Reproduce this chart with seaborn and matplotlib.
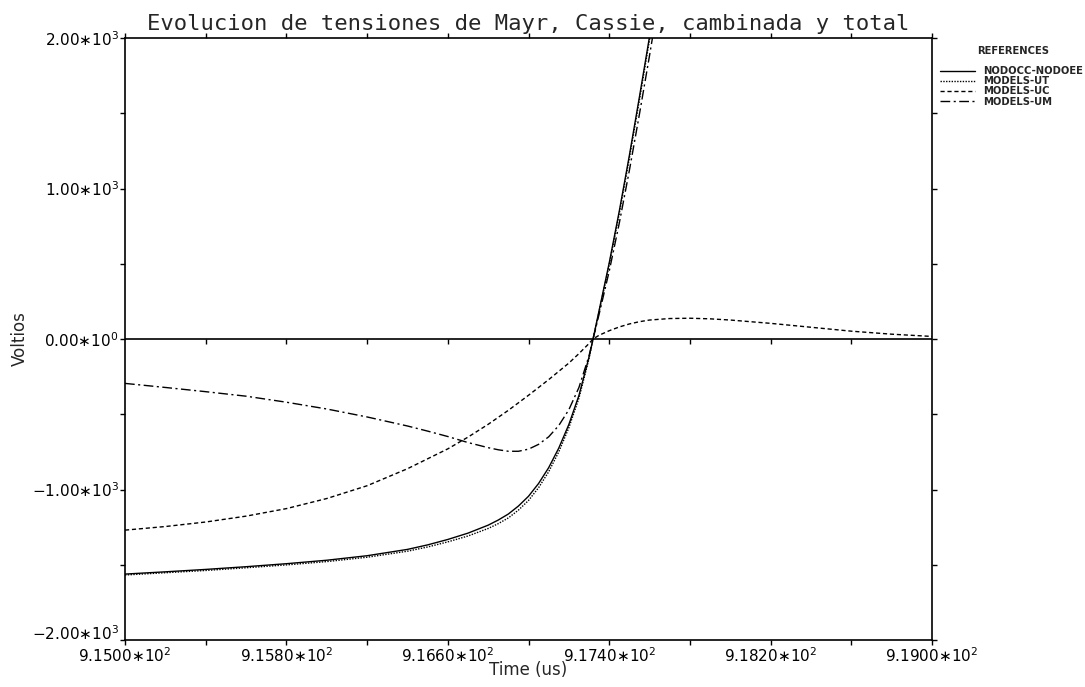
import matplotlib
matplotlib.use("Agg")
import matplotlib.pyplot as plt
from matplotlib.ticker import FixedLocator, FuncFormatter
import numpy as np
import pandas as pd
import seaborn as sns

# ---- data: arc voltages (V) versus time (us) ----
t_main = [915.0, 915.2, 915.4, 915.6, 915.8, 916.0, 916.2, 916.4, 916.5, 916.6,
          916.7, 916.8, 916.85, 916.9, 916.95, 917.0, 917.05, 917.1, 917.15, 917.2,
          917.25, 917.3, 917.32, 917.35, 917.4, 917.45, 917.5, 917.55, 917.6, 917.65]
v_nodo = [-1562, -1547, -1531, -1513, -1493, -1470, -1440, -1398, -1368, -1332,
          -1290, -1237, -1203, -1163, -1110, -1045, -960, -855, -725, -568,
          -375, -120, 0, 190, 505, 850, 1220, 1610, 2010, 2420]
v_ut = [-1568, -1553, -1538, -1520, -1501, -1479, -1450, -1410, -1382, -1348,
        -1309, -1259, -1227, -1189, -1137, -1073, -988, -882, -750, -590,
        -393, -130, 0, 182, 493, 835, 1202, 1590, 1990, 2400]
v_um = [-295, -322, -350, -380, -420, -465, -518, -578, -612, -648,
        -688, -722, -736, -746, -746, -732, -700, -650, -575, -470,
        -322, -112, 0, 165, 450, 770, 1120, 1495, 1884, 2289]

t_uc = [915.0, 915.2, 915.4, 915.6, 915.8, 916.0, 916.2, 916.4, 916.6, 916.7,
        916.8, 916.9, 917.0, 917.1, 917.2, 917.25, 917.3, 917.32, 917.35, 917.4,
        917.45, 917.5, 917.55, 917.6, 917.7, 917.8, 917.9, 918.0, 918.2, 918.4,
        918.6, 918.8, 919.0]
v_uc = [-1270, -1246, -1216, -1177, -1127, -1060, -975, -862, -730, -652,
        -567, -474, -374, -270, -160, -97, -30, 0, 25, 55,
        80, 100, 115, 126, 136, 138, 134, 126, 104, 78,
        52, 32, 17]

series_names = ["NODOCC-NODOEE", "MODELS-UT", "MODELS-UC", "MODELS-UM"]

x_ticks_major = [915.0, 915.8, 916.6, 917.4, 918.2, 919.0]
x_ticks_minor = [915.4, 916.2, 917.0, 917.8, 918.6]
y_ticks_major = [-2000, -1000, 0, 1000, 2000]
y_ticks_minor = [-1500, -500, 500, 1500]

frames = []
for name, tt, vv in zip(series_names,
                        [t_main, t_main, t_uc, t_main],
                        [v_nodo, v_ut, v_uc, v_um]):
    frames.append(pd.DataFrame({"time": tt, "volts": vv, "series": name}))
df = pd.concat(frames, ignore_index=True)

sns.set_style("ticks")
plt.rcParams["font.family"] = ["DejaVu Sans"]
plt.rcParams["mathtext.fontset"] = "dejavusans"

W, H = 1085, 687
fig = plt.figure(figsize=(W / 100, H / 100), dpi=100)
ax = fig.add_axes([125 / W, 1 - 640 / H, 807 / W, 602 / H])

dash_map = {
    "NODOCC-NODOEE": "",
    "MODELS-UT": (1, 1),
    "MODELS-UC": (3, 2),
    "MODELS-UM": (7, 2.5, 1.5, 2.5),
}
sns.lineplot(data=df, x="time", y="volts", style="series", style_order=series_names,
             dashes=dash_map, color="black", linewidth=1.0, sort=False,
             estimator=None, ax=ax)

ax.set_xlim(x_ticks_major[0], x_ticks_major[-1])
ax.set_ylim(y_ticks_major[0], y_ticks_major[-1])

# zero reference line with small downward ticks
ax.axhline(0, color="black", linewidth=1.2, zorder=1)
ax.vlines(x_ticks_major[1:-1] + x_ticks_minor, -36, 0, color="black",
          linewidth=1.0, zorder=1)


def fmt_sci(val, decimals):
    if val == 0:
        mant, exp = 0.0, 0
    else:
        exp = int(np.floor(np.log10(abs(val)) + 1e-9))
        mant = val / 10 ** exp
    s = f"{mant:.{decimals}f}".replace("-", "\u2212")
    return r"$\mathregular{" + s + r"{\ast}10^{" + str(exp) + r"}}$"


ax.xaxis.set_major_locator(FixedLocator(x_ticks_major))
ax.xaxis.set_minor_locator(FixedLocator(x_ticks_minor))
ax.yaxis.set_major_locator(FixedLocator(y_ticks_major))
ax.yaxis.set_minor_locator(FixedLocator(y_ticks_minor))
ax.xaxis.set_major_formatter(FuncFormatter(lambda v, p: fmt_sci(v, 4)))
ax.yaxis.set_major_formatter(FuncFormatter(lambda v, p: fmt_sci(v, 2)))

for which in ("major", "minor"):
    ax.tick_params(axis="both", which=which, direction="out", length=3.4, width=1.0,
                   top=True, right=True, bottom=True, left=True, color="black")
ax.tick_params(axis="both", which="major", labelsize=11, pad=1.0, labelcolor="black")

# lift the lowest y label so it sits above the corner
ax.yaxis.get_major_ticks(len(y_ticks_major))[0].label1.set_verticalalignment("baseline")

for sp in ax.spines.values():
    sp.set_visible(True)
    sp.set_linewidth(1.2)
    sp.set_color("black")

ax.set_xlabel("Time (us)", fontsize=12, labelpad=-3)
ax.set_ylabel("Voltios", fontsize=12, labelpad=2)
ax.set_title("Evolucion de tensiones de Mayr, Cassie, cambinada y total",
             fontsize=16, family="DejaVu Sans Mono", pad=6)

handles, labels = ax.get_legend_handles_labels()
ax.legend(handles, labels, loc="upper left",
          bbox_to_anchor=(940 / W, 1 - 66 / H), bbox_transform=fig.transFigure,
          frameon=False, prop={"size": 7.2, "weight": "bold"}, handlelength=3.5,
          handletextpad=0.85, labelspacing=0.02, borderpad=0, borderaxespad=0)
fig.text(1013 / W, 1 - 51 / H, "REFERENCES", ha="center", va="center",
         fontsize=7.2, fontweight="bold")

fig.savefig("out.png", dpi=100)
